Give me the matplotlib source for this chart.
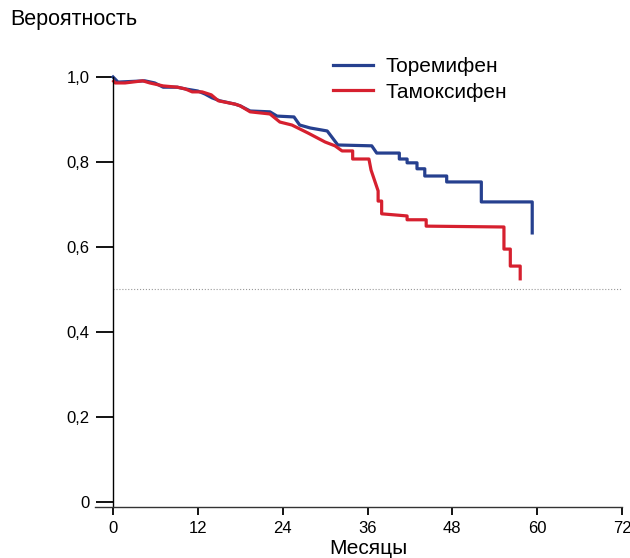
import matplotlib.pyplot as plt

plt.rcParams['font.family'] = ['Liberation Sans', 'DejaVu Sans']

# кривые выживаемости (месяцы, вероятность)
tor_months = [0, 0.7, 4.5, 5.9, 7.1, 9.1, 10.2, 12.0, 13.0, 14.0, 15.1, 17.3, 18.0,
              19.4, 22.2, 23.2, 25.6, 26.4, 27.9, 30.3, 31.8, 36.6, 37.3, 40.5,
              40.5, 41.6, 41.6, 43.0, 43.0, 44.1, 44.1, 47.2, 47.2, 52.1, 52.1,
              59.3, 59.3]
tor_prob = [1.0, 0.988, 0.991, 0.986, 0.976, 0.976, 0.972, 0.967, 0.960, 0.951,
            0.944, 0.936, 0.932, 0.920, 0.918, 0.908, 0.906, 0.887, 0.880, 0.873,
            0.840, 0.838, 0.821, 0.821, 0.807, 0.807, 0.798, 0.798, 0.784, 0.784,
            0.767, 0.767, 0.753, 0.753, 0.706, 0.706, 0.633]

tam_months = [0.1, 0.3, 1.7, 4.2, 5.2, 7.1, 9.1, 10.2, 11.2, 12.6, 13.9, 14.9, 17.3,
              18.0, 19.4, 22.2, 23.6, 25.3, 27.6, 30.0, 31.4, 32.4, 33.9, 33.9,
              36.2, 36.5, 37.5, 37.5, 38.0, 38.0, 41.6, 41.6, 44.3, 44.3, 55.3,
              55.3, 56.2, 56.2, 57.6, 57.6]
tam_prob = [0.990, 0.986, 0.986, 0.991, 0.986, 0.979, 0.976, 0.972, 0.965, 0.965,
            0.958, 0.944, 0.936, 0.932, 0.918, 0.913, 0.894, 0.887, 0.868, 0.847,
            0.838, 0.826, 0.826, 0.807, 0.807, 0.781, 0.732, 0.708, 0.708, 0.678,
            0.673, 0.664, 0.664, 0.649, 0.647, 0.595, 0.595, 0.555, 0.555, 0.525]

x_ticks = [0, 12, 24, 36, 48, 60, 72]
y_ticks = [0, 0.2, 0.4, 0.6, 0.8, 1.0]
y_labels = ['0', '0,2', '0,4', '0,6', '0,8', '1,0']

fig = plt.figure(figsize=(6.3, 5.58), dpi=100)
ax = fig.add_axes([95 / 630, 1 - 507 / 558, 527 / 630, 430 / 558])

ax.axhline(0.5, xmin=2.55 / 74.55, xmax=1, color='#999999', lw=0.8, ls=':')

ax.plot(tor_months, tor_prob, color='#26408f', lw=2.3, label='Торемифен', clip_on=False)
ax.plot(tam_months, tam_prob, color='#d6202f', lw=2.3, label='Тамоксифен', clip_on=False)

ax.set_xlim(-2.55, 72)
ax.set_ylim(-0.012, 1.0)

for s in ['top', 'right']:
    ax.spines[s].set_visible(False)
ax.spines['left'].set_position(('data', 0))
ax.spines['left'].set_bounds(-0.012, 1.0)
ax.spines['left'].set_linewidth(1.0)
ax.spines['bottom'].set_linewidth(1.0)
ax.spines['bottom'].set_color('#333333')

ax.set_xticks(x_ticks)
ax.set_xticklabels([str(t) for t in x_ticks])
ax.set_yticks(y_ticks)
ax.set_yticklabels(y_labels)
ax.tick_params(axis='y', length=12, width=1.3, pad=5, labelsize=12)
ax.tick_params(axis='x', length=6, width=1.3, pad=4, labelsize=12)

ax.legend(loc='upper left', bbox_to_anchor=(333 / 630, 1 - 57 / 558),
          bbox_transform=fig.transFigure, frameon=False, fontsize=15,
          borderpad=0, borderaxespad=0, handlelength=1.9, handletextpad=0.6,
          labelspacing=0.32)

fig.text(10 / 630, 1 - 20 / 558, 'Вероятность', fontsize=15.5, va='center', ha='left')
fig.text(368 / 630, 1 - 548 / 558, 'Месяцы', fontsize=15, va='center', ha='center')

fig.savefig('out.png', dpi=100)
